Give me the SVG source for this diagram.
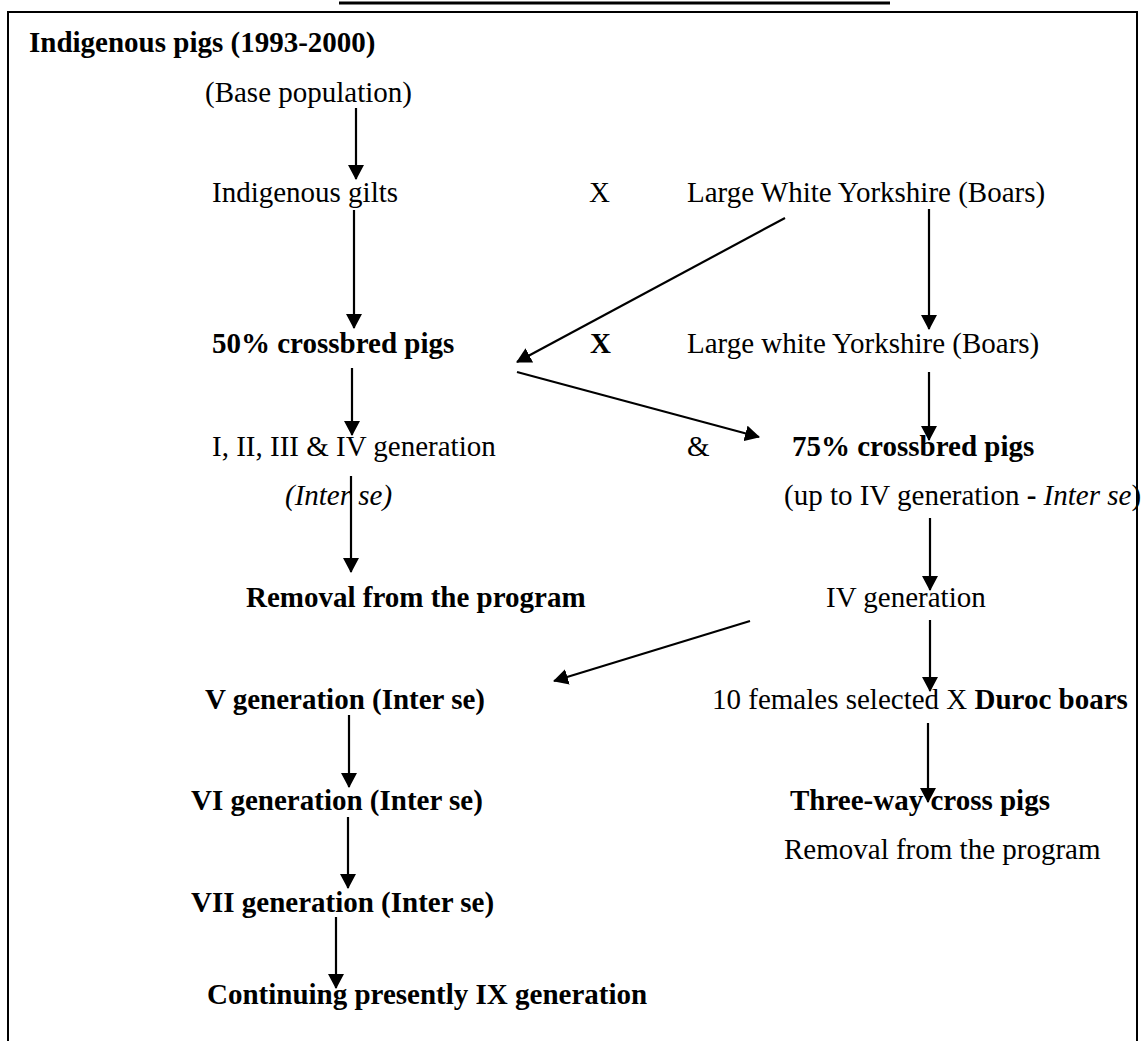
<svg xmlns="http://www.w3.org/2000/svg" width="1144" height="1041" viewBox="0 0 1144 1041">
<style>
text{font-family:"Liberation Serif","Times New Roman",serif;font-size:29px;fill:#000}
.b{font-weight:bold}
.i{font-style:italic}
.c line{stroke:#000;stroke-width:2.2;marker-end:url(#ah)}
</style>
<defs>
<marker id="ah" markerUnits="userSpaceOnUse" markerWidth="15" markerHeight="16" refX="14" refY="8" orient="auto">
<path d="M0,0 L15,8 L0,16 Z" fill="#000"/>
</marker>
</defs>
<rect x="0" y="0" width="1144" height="1041" fill="#fff"/>
<line x1="339" y1="3" x2="890" y2="3" stroke="#000" stroke-width="3"/>
<rect x="8" y="12" width="1129" height="1040" fill="none" stroke="#000" stroke-width="2"/>
<g id="title"><text class="b" x="29" y="52">Indigenous pigs (1993-2000)</text></g>
<g id="base"><text x="205" y="102">(Base population)</text></g>
<g id="gilts"><text x="212" y="202">Indigenous gilts</text></g>
<g id="x1"><text x="589" y="202">X</text></g>
<g id="lwy1"><text x="687" y="202">Large White Yorkshire (Boars)</text></g>
<g id="cb50"><text class="b" x="212" y="353">50% crossbred pigs</text></g>
<g id="x2"><text class="b" x="590" y="353">X</text></g>
<g id="lwy2"><text x="687" y="353">Large white Yorkshire (Boars)</text></g>
<g id="gen14"><text x="212" y="456">I, II, III &amp; IV generation</text></g>
<g id="amp"><text x="687" y="456">&amp;</text></g>
<g id="cb75"><text class="b" x="792" y="456">75% crossbred pigs</text></g>
<g id="interse1"><text class="i" x="285" y="505">(Inter se)</text></g>
<g id="upto"><text x="784" y="505">(up to IV generation <tspan class="b">-</tspan> <tspan class="i">Inter se</tspan>)</text></g>
<g id="removal1"><text class="b" x="246" y="607">Removal from the program</text></g>
<g id="gen4"><text x="826" y="607">IV generation</text></g>
<g id="gen5"><text class="b" x="205" y="709">V generation (Inter se)</text></g>
<g id="females"><text x="712" y="709">10 females selected X <tspan class="b">Duroc boars</tspan></text></g>
<g id="gen6"><text class="b" x="191" y="810">VI generation (Inter se)</text></g>
<g id="threeway"><text class="b" x="790" y="810">Three-way cross pigs</text></g>
<g id="removal2"><text x="784" y="859">Removal from the program</text></g>
<g id="gen7"><text class="b" x="191" y="912">VII generation (Inter se)</text></g>
<g id="gen9"><text class="b" x="207" y="1004">Continuing presently IX generation</text></g>
<g id="connectors" class="c">
<line x1="356" y1="108" x2="356" y2="179"/>
<line x1="354" y1="210" x2="354" y2="328"/>
<line x1="785" y1="218" x2="517" y2="362"/>
<line x1="929" y1="209" x2="929" y2="329"/>
<line x1="352" y1="368" x2="352" y2="435"/>
<line x1="517" y1="372" x2="759" y2="437"/>
<line x1="929" y1="372" x2="929" y2="440"/>
<line x1="351" y1="476" x2="351" y2="572"/>
<line x1="930" y1="518" x2="930" y2="590"/>
<line x1="750" y1="621" x2="554" y2="681"/>
<line x1="930" y1="620" x2="930" y2="691"/>
<line x1="349" y1="715" x2="349" y2="787"/>
<line x1="928" y1="723" x2="928" y2="802"/>
<line x1="348" y1="817" x2="348" y2="888"/>
<line x1="336" y1="917" x2="336" y2="988"/>
</g>
</svg>
